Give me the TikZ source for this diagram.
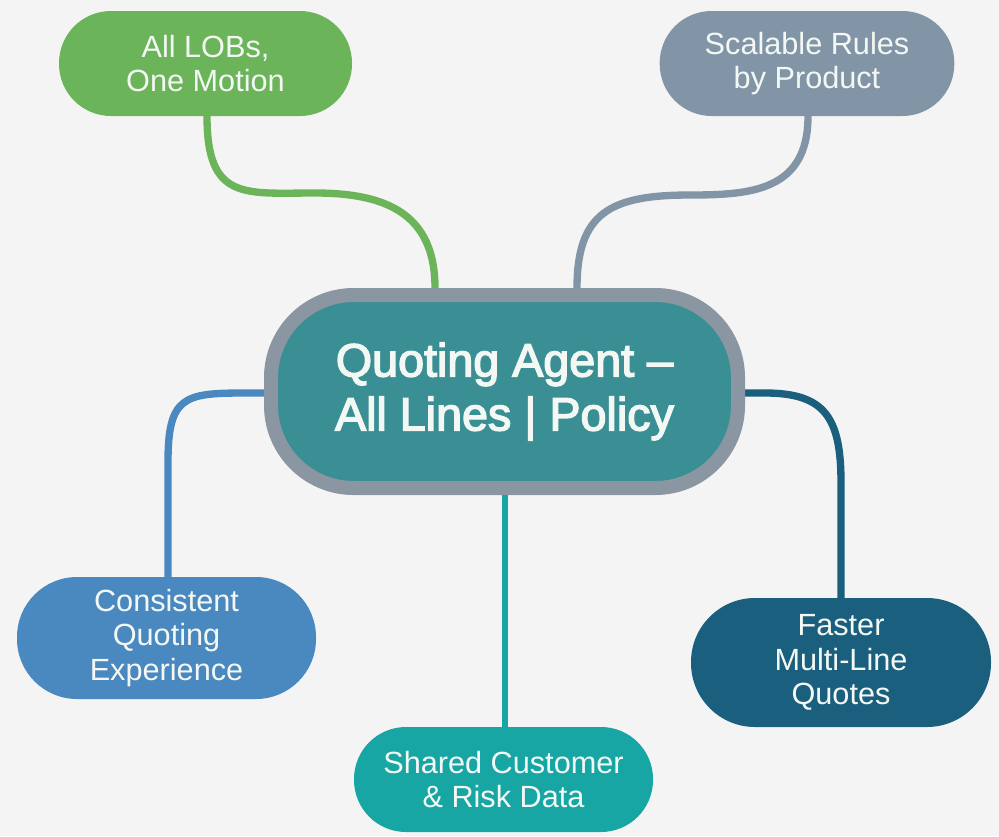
\documentclass[tikz,border=0pt]{standalone}
\usepackage{fontspec}
\setmainfont{Liberation Sans}
\newfontfamily\medfont[FakeBold=3]{Liberation Sans}
\usetikzlibrary{calc}
\pgfdeclarelayer{back}
\pgfsetlayers{back,main}
\definecolor{bgc}{HTML}{F4F4F4}
\definecolor{cgreen}{HTML}{6CB45A}
\definecolor{cgray}{HTML}{8295A6}
\definecolor{cteal}{HTML}{3A8F94}
\definecolor{cborder}{HTML}{8A96A2}
\definecolor{cblue}{HTML}{4A88C0}
\definecolor{cteal2}{HTML}{17A6A4}
\definecolor{cdark}{HTML}{1B5F7E}
\definecolor{txt}{HTML}{F4F8F4}
\begin{document}
\begin{tikzpicture}[x=0.75pt,y=-0.75pt,
  pillbox/.style={rectangle, inner sep=0pt, align=center, text=txt,
    font=\fontsize{23}{26}\selectfont},
  conn/.style={line width=5.5pt, line cap=round}]
\useasboundingbox (0,0) rectangle (999,836);
\begin{pgfonlayer}{back}
\fill[bgc] (0,0) rectangle (999,836);
\end{pgfonlayer}

\node[pillbox, fill=cteal, draw=cborder, line width=10.5pt,
  minimum width=350.25pt, minimum height=144.75pt, rounded corners=62pt,
  font=\medfont\fontsize{35}{40.5}\selectfont] (c) at (504.5,391.5)
  {Quoting Agent –\\All Lines | Policy};

\node[pillbox, fill=cgreen, minimum width=219.75pt, minimum height=78.75pt,
  rounded corners=39pt] (g) at (205.5,63.5) {All LOBs,\\One Motion};
\node[pillbox, fill=cgray, minimum width=221pt, minimum height=78.75pt,
  rounded corners=39pt] (s) at (807,63.5) {Scalable Rules\\by Product};
\node[pillbox, fill=cblue, minimum width=224.25pt, minimum height=91.5pt,
  rounded corners=45pt] (b) at (166.5,638) {Consistent\\Quoting\\Experience};
\node[pillbox, fill=cteal2, minimum width=224.25pt, minimum height=78.75pt,
  rounded corners=39pt] (t) at (503.5,779.5) {Shared Customer\\\& Risk Data};
\node[pillbox, fill=cdark, minimum width=225pt, minimum height=96.75pt,
  rounded corners=48pt] (r) at (841,662.5) {Faster\\Multi-Line\\Quotes};

\coordinate (gmid) at (315,193);
\coordinate (smid) at (690,195);

\begin{pgfonlayer}{back}
\draw[conn, cgreen] ($(g.south)+(1.5,0)$) .. controls +(0,85) and +(-70,0) .. (gmid)
  .. controls +(70,0) and +(0,-75) .. ($(c.north)+(-69.5,0)$);
\draw[conn, cgray] ($(s.south)+(1,0)$) .. controls +(0,75) and +(60,0) .. (smid)
  .. controls +(-80,0) and +(0,-75) .. ($(c.north)+(72.5,0)$);
\draw[conn, cblue] ($(c.west)+(0,1.5)$) -- ++(-20,0) .. controls +(-60,0) and +(0,-65) .. ($(b.north)+(1.5,-115)$) -- ($(b.north)+(1.5,0)$);
\draw[conn, cdark] ($(c.east)+(0,1.5)$) -- ++(20,0) .. controls +(60,0) and +(0,-65) .. ($(r.north)+(0,-115)$) -- (r.north);
\draw[line width=4.5pt, cteal2] ($(c.south)+(0.5,0)$) -- ($(t.north)+(1.5,0)$);
\end{pgfonlayer}
\end{tikzpicture}
\end{document}
